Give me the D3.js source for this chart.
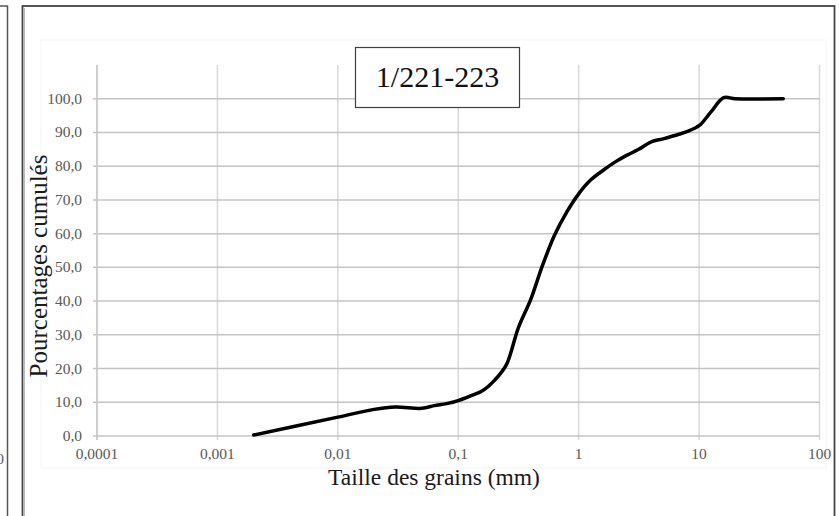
<!DOCTYPE html>
<html><head><meta charset="utf-8">
<script src="https://cdn.jsdelivr.net/npm/d3@7"></script>
<style>body{margin:0;background:#fff}svg{display:block}</style>
</head><body>
<script>
// Data
const grainSizes = [0.002,0.01,0.02,0.03,0.05,0.063,0.08,0.1,0.125,0.16,0.2,0.25,0.315,0.4,0.5,0.63,0.8,1,1.25,1.6,2,2.5,3.15,4,5,6.3,8,10,12.5,16,20,50];
const cumulative = [0.3,5.6,7.9,8.6,8.2,9.0,9.6,10.5,11.8,13.5,16.5,21.0,32.0,40.5,50.5,59.5,66.5,71.8,75.8,78.8,81.2,83.2,85.0,87.2,88.1,89.1,90.3,92.0,96.0,100.3,100,100];
const xTicks = [0.0001,0.001,0.01,0.1,1,10,100];
const xTickLabels = ["0,0001","0,001","0,01","0,1","1","10","100"];
const yTicks = [0,10,20,30,40,50,60,70,80,90,100];
const yTickLabels = ["0,0","10,0","20,0","30,0","40,0","50,0","60,0","70,0","80,0","90,0","100,0"];
const title = "1/221-223";
const xTitle = "Taille des grains (mm)";
const yTitle = "Pourcentages cumulés";

const W = 839, H = 516;
const svg = d3.select("body").append("svg").attr("width", W).attr("height", H);
const serif = "'Liberation Serif','Times New Roman',serif";

// left neighbouring panel fragment
svg.append("path").attr("d","M0,6 H7.5 V516").attr("fill","none").attr("stroke","#555").attr("stroke-width",1.5);
svg.append("text").attr("x",4).attr("y",464).attr("text-anchor","end").attr("font-family",serif).attr("font-size",15.5).attr("fill","#595959").text("100");

// main frame
svg.append("rect").attr("x",22.5).attr("y",6).attr("width",812).attr("height",520).attr("fill","#fff").attr("stroke","#444").attr("stroke-width",1.8);
svg.append("line").attr("x1",24.5).attr("x2",24.5).attr("y1",8).attr("y2",516).attr("stroke","#bbb").attr("stroke-width",1);
// faint chart area
svg.append("rect").attr("x",41).attr("y",40).attr("width",785).attr("height",428).attr("fill","none").attr("stroke","#f5f5f5").attr("stroke-width",1);

const x = d3.scaleLog().domain([0.0001,100]).range([97,819.5]);
const y = d3.scaleLinear().domain([0,110]).range([436,65]);

// vertical gridlines
svg.append("g").selectAll("line").data(xTicks).join("line")
  .attr("x1",d=>x(d)).attr("x2",d=>x(d)).attr("y1",y(110)).attr("y2",y(0)+4)
  .attr("stroke","#d9d9d9").attr("stroke-width",1.5);
// horizontal gridlines
svg.append("g").selectAll("line").data(yTicks).join("line")
  .attr("x1",x(0.0001)-4).attr("x2",x(100)).attr("y1",d=>y(d)).attr("y2",d=>y(d))
  .attr("stroke","#c4c4c4").attr("stroke-width",1.5);
// y axis line
svg.append("line").attr("x1",x(0.0001)).attr("x2",x(0.0001)).attr("y1",y(110)).attr("y2",y(0)+4).attr("stroke","#c8c8c8").attr("stroke-width",1.5);

// tick labels
svg.append("g").selectAll("text").data(xTicks).join("text")
  .attr("x",d=>x(d)).attr("y",459).attr("text-anchor","middle")
  .attr("font-family",serif).attr("font-size",15.5).attr("fill","#595959")
  .text((d,i)=>xTickLabels[i]);
svg.append("g").selectAll("text").data(yTicks).join("text")
  .attr("x",82).attr("y",d=>y(d)+5).attr("text-anchor","end")
  .attr("font-family",serif).attr("font-size",15.5).attr("fill","#595959")
  .text((d,i)=>yTickLabels[i]);

// curve
const pts = grainSizes.map((g,i)=>[g,cumulative[i]]);
svg.append("path").datum(pts)
  .attr("d", d3.line().x(d=>x(d[0])).y(d=>y(d[1])).curve(d3.curveCatmullRom.alpha(0.5)))
  .attr("fill","none").attr("stroke","#000").attr("stroke-width",3.5).attr("stroke-linecap","round").attr("stroke-linejoin","round");

// title box
const tb = svg.append("g");
tb.append("rect").attr("x",355.5).attr("y",47.5).attr("width",164).attr("height",60).attr("fill","#fff").attr("stroke","#404040").attr("stroke-width",1.2);
tb.append("text").attr("x",437.5).attr("y",87).attr("text-anchor","middle").attr("font-family",serif).attr("font-size",30).attr("fill","#111").text(title);

// axis titles
svg.append("text").attr("x",434).attr("y",485).attr("text-anchor","middle").attr("font-family",serif).attr("font-size",23.5).attr("fill","#1a1a1a").text(xTitle);
svg.append("text").attr("transform","translate(47,266) rotate(-90)").attr("text-anchor","middle").attr("font-family",serif).attr("font-size",25).attr("fill","#1a1a1a").text(yTitle);
</script>
</body></html>
